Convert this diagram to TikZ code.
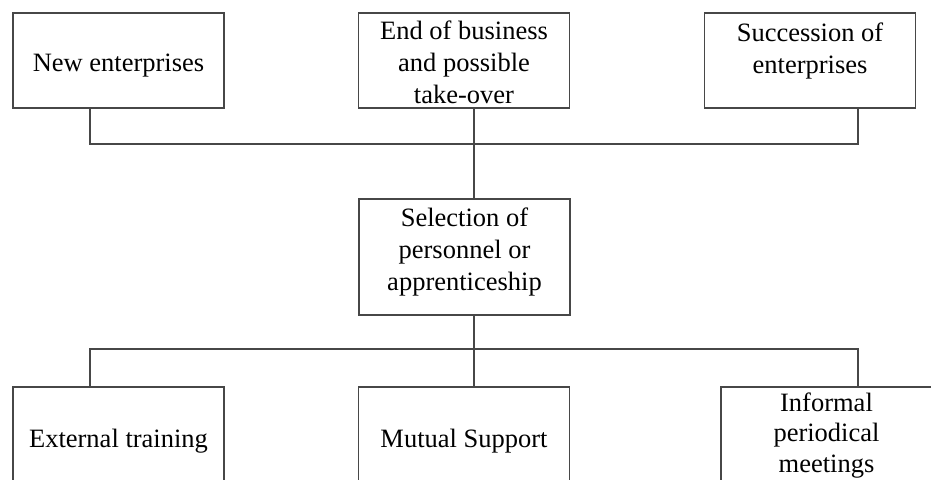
\documentclass[tikz,border=0pt]{standalone}
\usepackage{fontspec}
\setmainfont{Liberation Serif}

\tikzset{
  unit/.style={draw=black!72, line width=1.5pt, minimum width=211pt, minimum height=95pt, inner sep=0pt},
  caption/.style={align=center, font=\fontsize{26.5}{32}\selectfont, inner sep=0pt},
  link/.style={draw=black!72, line width=1.5pt},
}

\begin{document}
\begin{tikzpicture}[x=1pt, y=-1pt]
			%%%%% FRAME %%%%%
			\useasboundingbox (0, 0) rectangle (931, 479);
			\clip (0, 0) rectangle (931, 479);
			
			%%%%% TOP ROW %%%%%
			\node[unit, label={[caption, yshift=-5pt]center:New enterprises}] (newent) at (118.5, 60.5) {};
			\node[unit, label={[caption, yshift=-2pt]center:End of business\\and possible\\take-over}] (endbiz) at (464, 60.5) {};
			\node[unit, label={[caption, yshift=10pt]center:Succession of\\enterprises}] (succent) at (810, 60.5) {};
			
			%%%%% MIDDLE %%%%%
			\node[unit, minimum height=116pt, label={[caption, yshift=5pt]center:Selection of\\personnel or\\apprenticeship}] (selpers) at (464.5, 257) {};
			
			%%%%% BOTTOM ROW %%%%%
			\node[unit, label={[caption, yshift=-6.5pt]center:External training}] (exttrain) at (118.5, 434.5) {};
			\node[unit, label={[caption, yshift=-6.5pt]center:Mutual Support}] (mutsup) at (464, 434.5) {};
			\node[unit, label={[caption, yshift=-1pt, font=\fontsize{26.5}{30.5}\selectfont]center:Informal\\periodical\\meetings}] (infmeet) at (826.5, 434.5) {};
			
			%%%%% CONNECTORS %%%%%
			\coordinate (topbus) at (474, 144);
			\coordinate (lowbus) at (474, 349);
			
			\draw[link] ([xshift=-28.5pt]newent.south) |- (topbus) -| ([xshift=48pt]succent.south);
			\draw[link] ([xshift=10pt]endbiz.south) -- ([xshift=9.5pt]selpers.north);
			\draw[link] ([xshift=9.5pt]selpers.south) -- (lowbus);
			\draw[link] ([xshift=-28.5pt]exttrain.north) |- (lowbus) -| ([xshift=31.5pt]infmeet.north);
			\draw[link] (lowbus) -- ([xshift=10pt]mutsup.north);
		\end{tikzpicture}
\end{document}
